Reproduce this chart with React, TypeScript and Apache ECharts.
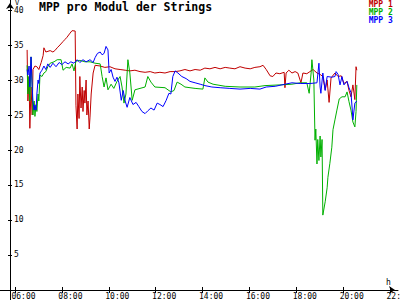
import React, { useEffect, useRef } from "react";
import * as echarts from "echarts";

const seriesNames = ["MPP 1", "MPP 2", "MPP 3"];
const seriesColors = ["#c00000", "#00b000", "#0000ff"];
const yTickValues = [5, 10, 15, 20, 25, 30, 35, 40];
const xTickHours = [6, 8, 10, 12, 14, 16, 18, 20, 22];
const chartTitle = "MPP pro Modul der Strings";
const yUnit = "V";
const xUnit = "h";

const mpp1Times = [
  "06:31", "06:33", "06:36", "06:38", "06:41", "06:44", "06:46", "06:51", "06:56", "07:01",
  "07:07", "07:12", "07:14", "07:19", "07:30", "07:37", "07:42", "07:48", "07:55", "08:03",
  "08:08", "08:13", "08:21", "08:26", "08:34", "08:36", "08:39", "08:41", "08:44", "08:46",
  "08:49", "08:52", "08:54", "08:57", "08:59", "09:02", "09:04", "09:07", "09:10", "09:12",
  "09:15", "09:20", "09:25", "09:38", "09:50", "10:03", "10:16", "10:29", "10:42", "10:54",
  "11:07", "11:20", "11:33", "11:46", "11:58", "12:11", "12:24", "12:37", "12:50", "13:02",
  "13:15", "13:28", "13:41", "13:54", "14:06", "14:19", "14:32", "14:45", "14:58", "15:10",
  "15:23", "15:36", "15:49", "16:02", "16:14", "16:27", "16:35", "16:43", "16:53", "17:00",
  "17:08", "17:18", "17:29", "17:31", "17:34", "17:41", "17:49", "17:57", "18:04", "18:12",
  "18:17", "18:27", "18:35", "18:43", "18:53", "19:01", "19:08", "19:14", "19:19", "19:24",
  "19:29", "19:39", "19:47", "19:55", "20:02", "20:10", "20:15", "20:20", "20:25", "20:30",
  "20:33", "20:35"
];
const mpp1Values = [
  34.3, 27, 30.5, 23.1, 29, 25, 31.5, 32, 31.9, 31.5,
  32.5, 33.5, 34.6, 34, 34.2, 34, 34.2, 34.6, 35, 35.5,
  35.8, 36.1, 36.7, 37.05, 37, 26.4, 23, 28, 24.5, 30.5,
  26, 29, 25.5, 28.5, 26.7, 30, 25, 27, 23, 24.7,
  28, 31, 32.1, 32, 31.8, 31.9, 31.6, 31.5, 31.4, 31.3,
  31.4, 31.2, 31.1, 31.2, 31.0, 31.1, 31.0, 31.2, 31.2, 31.3,
  31.5, 31.3, 31.5, 31.4, 31.7, 31.6, 31.8, 31.6, 31.8, 31.7,
  31.6, 31.9, 31.7, 31.6, 31.8, 31.9, 32.1, 31.5, 30.6, 30.5,
  31, 30.9, 31.1, 28.9, 31, 31.4, 31, 31.2, 31, 29.6,
  31, 30.9, 31.2, 31.5, 31, 30.8, 30.5, 28.6, 30, 26.8,
  30.3, 31, 30.5, 30.6, 29.5, 29.8, 28.5, 27.6, 29.3, 27.2,
  31.9, 31.4
];

const mpp2Times = [
  "06:31", "06:33", "06:36", "06:38", "06:41", "06:44", "06:46", "06:49", "06:51", "06:54",
  "06:56", "06:59", "07:01", "07:04", "07:09", "07:14", "07:19", "07:24", "07:30", "07:40",
  "07:48", "07:58", "08:03", "08:11", "08:21", "08:26", "08:31", "08:36", "08:46", "08:59",
  "09:12", "09:25", "09:38", "09:43", "09:48", "09:53", "09:58", "10:06", "10:13", "10:21",
  "10:29", "10:34", "10:39", "10:44", "10:49", "10:54", "11:00", "11:07", "11:20", "11:33",
  "11:40", "11:48", "11:58", "12:24", "12:39", "12:47", "12:55", "13:05", "13:15", "13:41",
  "14:01", "14:06", "14:14", "14:27", "14:58", "15:36", "16:14", "16:40", "17:18", "17:49",
  "18:10", "18:27", "18:33", "18:38", "18:40", "18:45", "18:48", "18:50", "18:53", "18:55",
  "18:58", "19:01", "19:03", "19:06", "19:08", "19:14", "19:19", "19:21", "19:26", "19:31",
  "19:34", "19:39", "19:44", "19:50", "19:57", "20:05", "20:10", "20:15", "20:20", "20:25",
  "20:30", "20:33", "20:35"
];
const mpp2Values = [
  32.1, 28, 30.5, 27, 33.3, 29, 25, 27, 24.8, 26.5,
  25.5, 28, 27, 30.7, 30.5, 31, 31.2, 31.9, 32.4, 32.6,
  32.9, 32.9, 31.4, 31.8, 31.7, 32.3, 31.3, 32.7, 32.8, 32.6,
  32.6, 32.4, 32.3, 30.5, 29, 30.3, 28.6, 29.4, 28.8, 29.8,
  30.5, 29, 26.7, 28, 32.9, 31, 27.1, 28.6, 28.8, 29,
  30.5, 29.7, 29, 28.9, 28.3, 28.5, 29.7, 29.4, 29, 28.8,
  28.7, 30.3, 29.7, 29.4, 29.1, 29.0, 29.0, 29.2, 29.3, 29.4,
  29.6, 29.6, 28.1, 31, 32.9, 30, 21.4, 23, 18, 21.5,
  18.5, 22, 19, 21.5, 10.7, 12.6, 14.6, 16.1, 18.1, 20.4,
  22.9, 24.3, 25.7, 27.3, 27.6, 27.6, 28.3, 26.9, 25.7, 24,
  23.3, 25.5, 29.3
];

const mpp3Times = [
  "06:31", "06:33", "06:36", "06:38", "06:41", "06:44", "06:46", "06:49", "06:51", "06:54",
  "06:56", "06:59", "07:01", "07:04", "07:09", "07:14", "07:19", "07:24", "07:30", "07:37",
  "07:45", "07:53", "08:00", "08:08", "08:16", "08:23", "08:31", "08:39", "08:46", "08:54",
  "09:02", "09:12", "09:20", "09:25", "09:31", "09:38", "09:43", "09:48", "09:53", "09:58",
  "10:01", "10:06", "10:11", "10:16", "10:21", "10:26", "10:32", "10:37", "10:42", "10:47",
  "10:54", "11:02", "11:10", "11:17", "11:25", "11:33", "11:40", "11:48", "11:56", "12:04",
  "12:11", "12:19", "12:27", "12:34", "12:39", "12:44", "12:50", "12:57", "13:07", "13:18",
  "13:28", "13:41", "13:54", "14:06", "14:24", "14:45", "15:10", "15:36", "16:02", "16:27",
  "16:43", "17:06", "17:31", "17:49", "18:10", "18:35", "18:53", "18:58", "19:01", "19:03",
  "19:08", "19:14", "19:19", "19:31", "19:39", "19:42", "19:47", "19:52", "19:57", "20:02",
  "20:10", "20:15", "20:20", "20:23", "20:25", "20:30", "20:35"
];
const mpp3Values = [
  31.5, 30.7, 32, 29, 33.3, 29, 26.9, 25.7, 26.4, 25.7,
  28, 30, 29.5, 31, 31.4, 32, 31.5, 32.3, 31.8, 32.4,
  31.9, 32.5, 32.2, 32.6, 32.3, 32.6, 32.4, 32.9, 32.5, 32.9,
  32.6, 32.9, 32.5, 33.2, 33.8, 34.0, 33.6, 33.8, 34.8, 34.3,
  31, 31.5, 30.4, 29.8, 30.4, 29.6, 27.1, 28.5, 27, 26.1,
  27.5, 26.5, 26.8, 26.2, 25.5, 25.2, 25.6, 26.0, 25.7, 26.7,
  26.5, 26.2, 27.1, 28.1, 28.0, 30.5, 31.3, 31, 30.5, 30.2,
  29.8, 29.6, 29.4, 29.2, 29.0, 28.9, 28.8, 28.7, 28.8, 28.7,
  29, 29.1, 29.4, 29.6, 29.5, 29.5, 29.6, 32.4, 29, 28.1,
  31, 28.5, 30.5, 30.4, 30.5, 31.2, 30.8, 29.3, 30.5, 29.3,
  29.8, 28.9, 28.2, 26, 24.3, 26.7, 27
];

const seriesTimes = [mpp1Times, mpp2Times, mpp3Times];
const seriesValues = [mpp1Values, mpp2Values, mpp3Values];

const X_MIN = 5.36;
const X_MAX = 22.34;
const Y_MIN = -1.43;
const Y_MAX = 41.43;
const MONO = "'DejaVu Sans Mono', 'Liberation Mono', monospace";

function toHours(t: string): number {
  const [h, m] = t.split(":").map(Number);
  return h + m / 60;
}

function fmtHour(v: number): string {
  const h = Math.round(v);
  return (h < 10 ? "0" : "") + h + ":00";
}

export default function App() {
  const ref = useRef<HTMLDivElement>(null);

  useEffect(() => {
    if (!ref.current) return;
    const chart = echarts.init(ref.current, undefined, { renderer: "svg" });
    const labelShift = 0.15;
    const axisCommon = {
      type: "value" as const,
      splitLine: { show: false },
    };
    chart.setOption({
      animation: false,
      backgroundColor: "#ffffff",
      title: {
        text: chartTitle,
        left: 39,
        top: 0,
        padding: 0,
        textStyle: {
          fontFamily: MONO,
          fontWeight: "bold",
          fontSize: 11.5,
          lineHeight: 13,
          color: "#000000",
        },
      },
      legend: {
        orient: "vertical",
        right: -1,
        top: 0,
        padding: 0,
        itemGap: 0,
        itemWidth: 0,
        itemHeight: 8,
        align: "right",
        selectedMode: false,
        textStyle: { fontFamily: MONO, fontSize: 8, fontWeight: "bold", lineHeight: 8 },
        data: seriesNames.map((n, i) => ({
          name: n,
          itemStyle: { opacity: 0 },
          textStyle: { color: seriesColors[i] },
        })),
      },
      grid: {
        left: 0,
        right: 2,
        top: 0,
        bottom: 0,
        containLabel: false,
        outerBoundsMode: "none",
      },
      xAxis: [
        {
          ...axisCommon,
          min: X_MIN,
          max: X_MAX,
          position: "bottom",
          axisLine: {
            show: true,
            onZero: true,
            symbol: ["none", "arrow"],
            symbolSize: [6, 6],
            symbolOffset: [0, -3],
            lineStyle: { color: "#000000", width: 1 },
          },
          axisTick: {
            show: true,
            length: 3,
            customValues: xTickHours,
            lineStyle: { color: "#000000", width: 1 },
          },
          axisLabel: {
            show: true,
            customValues: xTickHours.map((h) => h - labelShift),
            formatter: (v: number) => fmtHour(v),
            align: "left",
            margin: -8,
            fontFamily: MONO,
            fontSize: 8,
            color: "#000000",
          },
        },
        {
          ...axisCommon,
          min: X_MIN,
          max: X_MAX,
          position: "bottom",
          axisLine: { show: false, onZero: true },
          axisTick: {
            show: true,
            inside: true,
            length: 3,
            customValues: xTickHours,
            lineStyle: { color: "#000000", width: 1 },
          },
          axisLabel: { show: false },
        },
      ],
      yAxis: [
        {
          ...axisCommon,
          min: Y_MIN,
          max: Y_MAX,
          position: "left",
          offset: -10,
          axisLine: {
            show: true,
            symbol: ["none", "arrow"],
            symbolSize: [6, 6],
            symbolOffset: [0, -3],
            lineStyle: { color: "#000000", width: 1 },
          },
          axisTick: {
            show: true,
            inside: true,
            length: 2,
            customValues: yTickValues,
            lineStyle: { color: "#000000", width: 1 },
          },
          axisLabel: {
            show: true,
            inside: true,
            margin: 4,
            customValues: yTickValues,
            fontFamily: MONO,
            fontSize: 8,
            color: "#000000",
          },
        },
        {
          ...axisCommon,
          min: Y_MIN,
          max: Y_MAX,
          position: "left",
          offset: -10,
          axisLine: { show: false },
          axisTick: {
            show: true,
            length: 2,
            customValues: yTickValues,
            lineStyle: { color: "#000000", width: 1 },
          },
          axisLabel: { show: false },
        },
      ],
      graphic: [
        {
          type: "text",
          left: 15,
          top: -1,
          style: { text: yUnit, fontFamily: MONO, fontSize: 7, fill: "#000000" },
        },
        {
          type: "text",
          left: 386,
          top: 278,
          style: { text: xUnit, fontFamily: MONO, fontSize: 8, fill: "#000000" },
        },
      ],
      series: seriesNames.map((name, i) => ({
        name,
        type: "line",
        xAxisIndex: 0,
        yAxisIndex: 0,
        showSymbol: false,
        symbol: "none",
        color: seriesColors[i],
        lineStyle: { width: 1, color: seriesColors[i] },
        data: seriesTimes[i].map((t, k) => [toHours(t), seriesValues[i][k]]),
      })),
    });
    return () => chart.dispose();
  }, []);

  return (
    <div
      ref={ref}
      style={{ position: "absolute", left: 0, top: 0, width: 400, height: 300 }}
    />
  );
}
